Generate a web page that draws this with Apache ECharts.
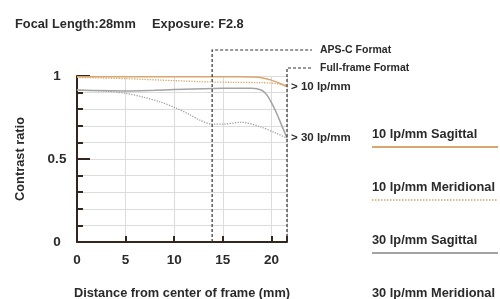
<!DOCTYPE html>
<html>
<head>
<meta charset="utf-8">
<script src="https://cdn.jsdelivr.net/npm/echarts@6/dist/echarts.min.js"></script>
<style>
	html, body { margin: 0; padding: 0; background: #fff; }
	#chart { width: 500px; height: 299px; }
</style>
</head>
<body>
<div id="chart"></div>
<script>
// values
var seriesNames = ['10 lp/mm Sagittal', '10 lp/mm Meridional', '30 lp/mm Sagittal', '30 lp/mm Meridional'];

var s10X = [0, 4, 8, 12, 16, 18, 19, 20, 21, 21.6];
var s10Y = [0.996, 0.996, 0.996, 0.996, 0.995, 0.994, 0.99, 0.975, 0.952, 0.935];

var m10X = [0, 5, 10, 13.8, 16, 18.8, 20, 21, 21.6];
var m10Y = [0.992, 0.984, 0.972, 0.964, 0.962, 0.96, 0.957, 0.95, 0.944];

var s30X = [0, 2, 5, 8, 10, 12, 14, 16, 18, 19, 19.5, 20, 20.5, 21, 21.6];
var s30Y = [0.916, 0.912, 0.91, 0.914, 0.918, 0.922, 0.925, 0.926, 0.926, 0.914, 0.888, 0.84, 0.78, 0.71, 0.627];

var m30X = [0, 3, 5, 7, 8.5, 10.2, 11.5, 12.6, 13.8, 15, 16.9, 18.8, 20.5, 21.6];
var m30Y = [0.916, 0.908, 0.896, 0.87, 0.845, 0.807, 0.77, 0.735, 0.711, 0.71, 0.721, 0.695, 0.655, 0.625];

var xTicks = [0, 5, 10, 15, 20];
var yTicks = [0, 0.5, 1];

var apsc = 13.9;
var fullFrame = 21.6;

var FONT = 'Liberation Sans';
var TEXT = '#2a2a2a';
var DARK = '#33261d';
var ORANGE = '#d9a66e';
var GRAY = '#a3a3a3';

function pairs(xs, ys) {
	return xs.map(function(x, i) { return [x, ys[i]]; });
}

var myChart = echarts.init(document.getElementById('chart'));

var option = {
	animation: false,
	textStyle: { fontFamily: FONT },
	title: [{
		text: 'Focal Length:28mm',
		left: 15, top: 18, padding: 0,
		textStyle: { fontFamily: FONT, fontSize: 12.8, fontWeight: 'bold', color: TEXT }
	}, {
		text: 'Exposure: F2.8',
		left: 152, top: 18, padding: 0,
		textStyle: { fontFamily: FONT, fontSize: 12.8, fontWeight: 'bold', color: TEXT }
	}],
	grid: { left: 77, right: 213, top: 76, bottom: 57, containLabel: false, outerBoundsMode: 'none' },
	xAxis: {
		type: 'value',
		min: 0, max: fullFrame, interval: 5,
		name: 'Distance from center of frame (mm)',
		nameLocation: 'middle', nameGap: 45,
		nameTextStyle: { fontFamily: FONT, fontSize: 12.8, fontWeight: 'bold', color: TEXT },
		axisLine: { lineStyle: { color: DARK, width: 2 } },
		axisTick: { inside: true, length: 6, lineStyle: { color: DARK, width: 2 } },
		axisLabel: {
			margin: 11, fontSize: 13.5, fontWeight: 'bold', color: TEXT, fontFamily: FONT,
			formatter: function(v) { return xTicks.indexOf(v) >= 0 ? String(v) : ''; }
		},
		splitLine: { show: true, lineStyle: { color: '#dcdcdc', width: 1 } }
	},
	yAxis: {
		type: 'value',
		min: 0, max: 1, interval: 0.5,
		name: 'Contrast ratio',
		nameLocation: 'middle', nameGap: 50,
		nameTextStyle: { fontFamily: FONT, fontSize: 12.8, fontWeight: 'bold', color: TEXT },
		axisLine: { show: true, lineStyle: { color: DARK, width: 2 } },
		axisTick: { show: true, inside: true, length: 13, lineStyle: { color: DARK, width: 2 } },
		minorTick: { show: true, splitNumber: 5, length: 6, lineStyle: { color: DARK, width: 2 } },
		minorSplitLine: { show: true, lineStyle: { color: '#dcdcdc', width: 1 } },
		splitLine: { show: true, lineStyle: { color: '#dcdcdc', width: 1 } },
		axisLabel: {
			margin: 20, align: 'center', fontSize: 13.5, fontWeight: 'bold', color: TEXT, fontFamily: FONT,
			formatter: function(v) { return yTicks.indexOf(v) >= 0 ? String(v) : ''; }
		}
	},
	series: [{
		name: seriesNames[0],
		type: 'line', smooth: 0.3, showSymbol: false, clip: false,
		lineStyle: { color: ORANGE, width: 1.5 },
		data: pairs(s10X, s10Y),
		endLabel: {
			show: true, formatter: '> 10 lp/mm', distance: 4,
			fontFamily: FONT, fontSize: 11.5, fontWeight: 'bold', color: TEXT
		}
	}, {
		name: seriesNames[1],
		type: 'line', smooth: 0.3, showSymbol: false, clip: false,
		lineStyle: { color: ORANGE, width: 1.3, type: 'dotted' },
		data: pairs(m10X, m10Y)
	}, {
		name: seriesNames[2],
		type: 'line', smooth: 0.3, showSymbol: false, clip: false,
		lineStyle: { color: GRAY, width: 1.5 },
		data: pairs(s30X, s30Y)
	}, {
		name: seriesNames[3],
		type: 'line', smooth: 0.3, showSymbol: false, clip: false,
		lineStyle: { color: GRAY, width: 1.3, type: 'dotted' },
		data: pairs(m30X, m30Y),
		endLabel: {
			show: true, formatter: '> 30 lp/mm', distance: 4,
			fontFamily: FONT, fontSize: 11.5, fontWeight: 'bold', color: TEXT
		}
	}]
};

myChart.setOption(option);

// format markers and the legend, placed from the chart's own scale
var p0 = myChart.convertToPixel({ gridIndex: 0 }, [apsc, 0]);
var p1 = myChart.convertToPixel({ gridIndex: 0 }, [fullFrame, 0]);
var dash = { stroke: '#333', lineWidth: 1.2, lineDash: [3, 2], fill: null };
var labelStyle = { fontFamily: FONT, fontSize: 10.5, fontWeight: 'bold', fill: TEXT };

var graphics = [{
	type: 'polyline', z: 10,
	shape: { points: [[p0[0], p0[1]], [p0[0], 50], [312, 50]] },
	style: dash
}, {
	type: 'polyline', z: 10,
	shape: { points: [[p1[0], p1[1]], [p1[0], 68], [312, 68]] },
	style: dash
}, {
	type: 'text', x: 320, y: 50,
	style: Object.assign({ text: 'APS-C Format', verticalAlign: 'middle' }, labelStyle)
}, {
	type: 'text', x: 320, y: 68,
	style: Object.assign({ text: 'Full-frame Format', verticalAlign: 'middle' }, labelStyle)
}];

var legendColors = [ORANGE, ORANGE, GRAY, GRAY];
var legendDash = [null, [1.5, 1.5], null, [1.5, 1.5]];
var legendTop = [134, 187, 240, 293];
seriesNames.forEach(function(n, i) {
	graphics.push({
		type: 'text', x: 372, y: legendTop[i],
		style: Object.assign({ text: n, verticalAlign: 'middle' }, labelStyle, { fontSize: 12.8 })
	});
	graphics.push({
		type: 'line',
		shape: { x1: 372, y1: legendTop[i] + 13, x2: 498, y2: legendTop[i] + 13 },
		style: { stroke: legendColors[i], lineWidth: legendDash[i] ? 1.3 : 2, lineDash: legendDash[i] }
	});
});

myChart.setOption({ graphic: graphics });
</script>
</body>
</html>
